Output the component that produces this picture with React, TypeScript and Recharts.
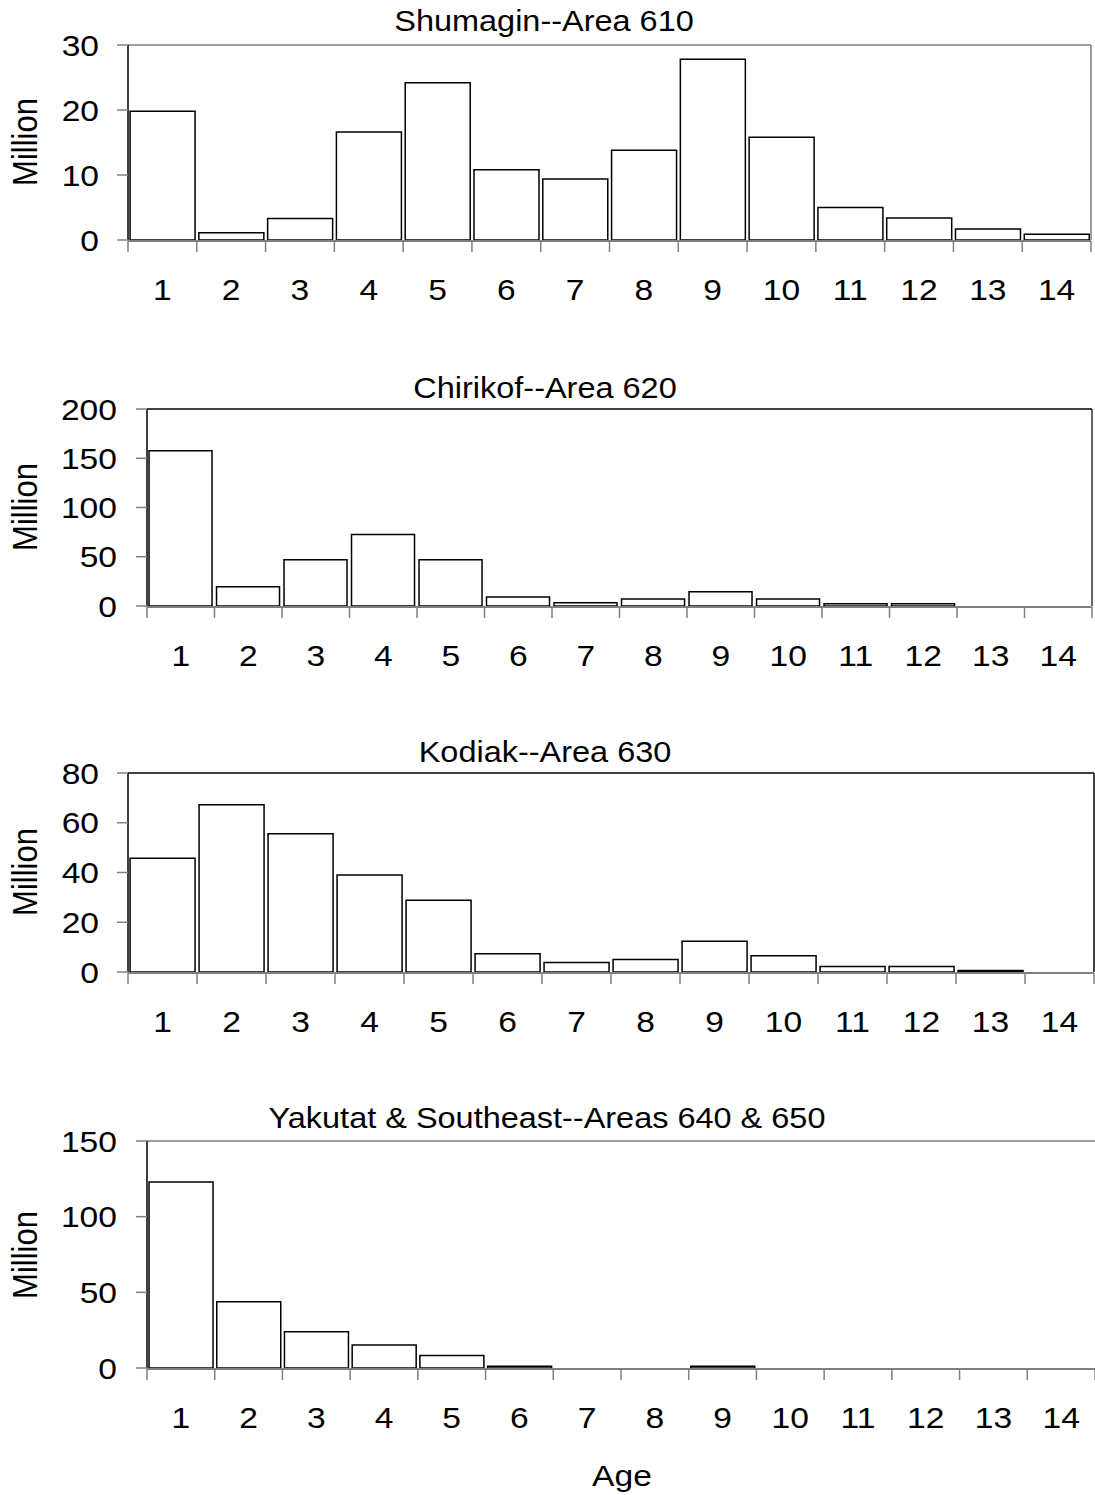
import React from 'react';
import { BarChart, Bar, XAxis, YAxis, ReferenceLine } from 'recharts';

const ages = [1, 2, 3, 4, 5, 6, 7, 8, 9, 10, 11, 12, 13, 14];
const shumagin610 = [19.8, 1.1, 3.3, 16.6, 24.2, 10.8, 9.4, 13.8, 27.8, 15.8, 5.0, 3.4, 1.7, 0.9];
const chirikof620 = [157.7, 19.6, 47, 72.6, 47, 9.1, 3.3, 7, 14.5, 7, 2.2, 2.2, 0, 0];
const kodiak630 = [45.7, 67.2, 55.6, 39, 28.8, 7.3, 3.8, 5, 12.4, 6.5, 2.2, 2.2, 0.6, 0];
const yakutatSE = [122.9, 43.8, 24, 15.2, 8.2, 1.2, 0, 0, 1.2, 0, 0, 0, 0, 0];

const ticks610 = [0, 10, 20, 30];
const ticks620 = [0, 50, 100, 150, 200];
const ticks630 = [0, 20, 40, 60, 80];
const ticks640 = [0, 50, 100, 150];

const titles = [
  'Shumagin--Area 610',
  'Chirikof--Area 620',
  'Kodiak--Area 630',
  'Yakutat & Southeast--Areas 640 & 650',
];
const yLabel = 'Million';
const xLabel = 'Age';

const FONT = '"Liberation Sans", Arial, sans-serif';
const STRETCH = 1.12;
const boundaries = [...ages.map((a) => a - 0.5), ages[ages.length - 1] + 0.5];

const YTick = (props: any) => {
  const { x, y, payload } = props;
  return (
    <text
      transform={`translate(${x} ${y}) scale(${STRETCH} 1)`}
      textAnchor="end"
      dy="0.35em"
      fontSize={30}
      fontFamily={FONT}
      fill="#000"
    >
      {payload.value}
    </text>
  );
};

const XTick = (props: any) => {
  const { x, y, payload } = props;
  return (
    <text
      transform={`translate(${x} ${y + 49}) scale(${STRETCH} 1)`}
      textAnchor="middle"
      dy="0.35em"
      fontSize={30}
      fontFamily={FONT}
      fill="#000"
    >
      {payload.value}
    </text>
  );
};

const EmptyTick = () => <g />;

type PanelProps = {
  top: number;
  plotTop: number;
  plotBottom: number;
  plotLeft: number;
  plotRight: number;
  values: number[];
  ticks: number[];
  tickMargin: number;
  topColor: string;
  rightColor: string | null;
};

const Panel = ({ top, plotTop, plotBottom, plotLeft, plotRight, values, ticks, tickMargin, topColor, rightColor }: PanelProps) => {
  const data = ages.map((a, i) => ({ age: a, value: values[i] }));
  const bottomSpace = 85;
  const height = plotBottom - top + bottomSpace;
  const yMax = ticks[ticks.length - 1];
  const rightW = rightColor ? 1 : 0;
  return (
    <div style={{ position: 'absolute', left: 0, top, width: 1095, height }}>
      <BarChart
        width={1095}
        height={height}
        data={data}
        margin={{ top: plotTop - top, left: 0, right: 1095 - plotRight - rightW, bottom: bottomSpace - 2 }}
        barCategoryGap="3%"
        style={{ overflow: 'visible' }}
      >
        <XAxis
          xAxisId="grid"
          type="number"
          dataKey="age"
          domain={[boundaries[0], boundaries[boundaries.length - 1]]}
          ticks={boundaries}
          allowDataOverflow
          height={1}
          tick={EmptyTick}
          tickSize={11}
          tickLine={{ stroke: '#808080', strokeWidth: 1.5 }}
          axisLine={{ stroke: '#555', strokeWidth: 1.5 }}
        />
        <XAxis
          xAxisId="cat"
          dataKey="age"
          type="category"
          height={1}
          axisLine={false}
          tickLine={false}
          tickSize={0}
          tickMargin={0}
          tick={XTick}
          interval={0}
        />
        <YAxis
          yAxisId="left"
          width={plotLeft}
          domain={[0, yMax]}
          ticks={ticks}
          allowDataOverflow
          tickSize={11}
          tickMargin={tickMargin}
          tick={YTick}
          tickLine={{ stroke: '#808080', strokeWidth: 1.5 }}
          axisLine={{ stroke: '#000', strokeWidth: 1.5 }}
        />
        {rightColor ? (
          <YAxis
            yAxisId="right"
            orientation="right"
            width={1}
            domain={[0, yMax]}
            ticks={ticks}
            tick={EmptyTick}
            tickLine={false}
            axisLine={{ stroke: rightColor, strokeWidth: 1.5 }}
          />
        ) : null}
        <ReferenceLine xAxisId="cat" yAxisId="left" y={yMax} stroke={topColor} strokeWidth={1.5} />
        <Bar
          xAxisId="cat"
          yAxisId="left"
          dataKey="value"
          fill="#fff"
          stroke="#000"
          strokeWidth={1.5}
          isAnimationActive={false}
        />
      </BarChart>
    </div>
  );
};

const Overlay = () => {
  const titlePos = [
    [544, 21],
    [545, 388],
    [545, 752],
    [547, 1118],
  ];
  const millionY = [142, 507, 872, 1255];
  return (
    <svg
      width={1095}
      height={1495}
      style={{ position: 'absolute', left: 0, top: 0, pointerEvents: 'none' }}
    >
      {titles.map((t, i) => (
        <text
          key={t}
          transform={`translate(${titlePos[i][0]} ${titlePos[i][1]}) scale(${STRETCH} 1)`}
          textAnchor="middle"
          dy="0.35em"
          fontSize={29}
          fontFamily={FONT}
          fill="#000"
        >
          {t}
        </text>
      ))}
      {millionY.map((y) => (
        <text
          key={y}
          transform={`translate(25 ${y}) rotate(-90) scale(1 ${STRETCH})`}
          textAnchor="middle"
          dy="0.35em"
          fontSize={31}
          fontFamily={FONT}
          fill="#000"
        >
          {yLabel}
        </text>
      ))}
      <text
        transform={`translate(622 1475) scale(${STRETCH} 1)`}
        textAnchor="middle"
        dy="0.35em"
        fontSize={30}
        fontFamily={FONT}
        fill="#000"
      >
        {xLabel}
      </text>
    </svg>
  );
};

export default function App() {
  return (
    <div style={{ position: 'absolute', left: 0, top: 0, width: 1095, height: 1495, background: '#fff' }}>
      <Panel top={0} plotTop={45} plotBottom={240} plotLeft={128} plotRight={1091} values={shumagin610} ticks={ticks610} tickMargin={18} topColor="#808080" rightColor="#808080" />
      <Panel top={340} plotTop={409} plotBottom={606} plotLeft={147} plotRight={1092} values={chirikof620} ticks={ticks620} tickMargin={19} topColor="#000" rightColor="#333" />
      <Panel top={700} plotTop={773} plotBottom={972} plotLeft={128} plotRight={1094} values={kodiak630} ticks={ticks630} tickMargin={18} topColor="#000" rightColor="#000" />
      <Panel top={1070} plotTop={1141} plotBottom={1368} plotLeft={147} plotRight={1095} values={yakutatSE} ticks={ticks640} tickMargin={19} topColor="#808080" rightColor={null} />
      <Overlay />
    </div>
  );
}
